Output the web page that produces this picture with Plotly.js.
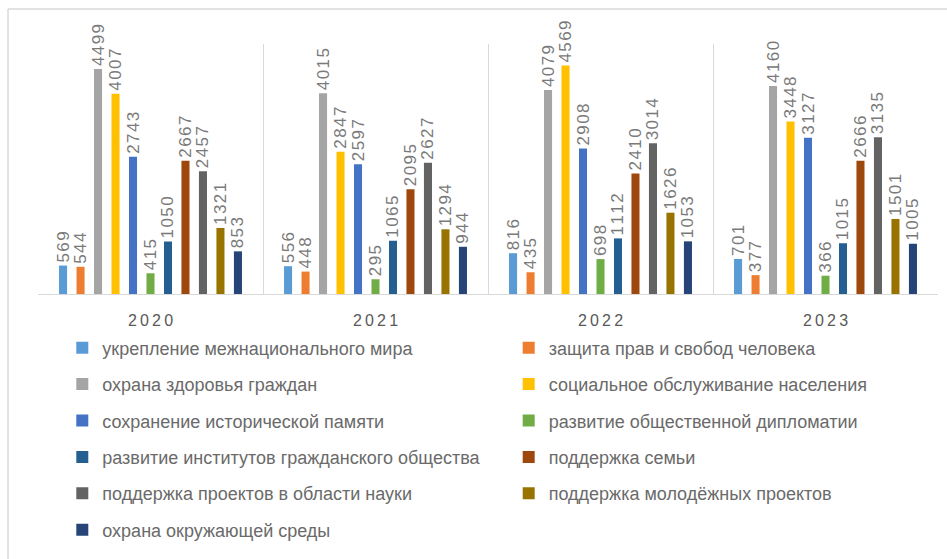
<!DOCTYPE html>
<html>
<head>
<meta charset="utf-8">
<script src="https://cdn.plot.ly/plotly-3.0.1.min.js"></script>
<style>html,body{margin:0;padding:0;background:#fff;}#chart{width:947px;height:559px;}</style>
</head>
<body>
<div id="chart"></div>
<script>
var years = ['2020', '2021', '2022', '2023'];
var seriesNames = [
  'укрепление межнационального мира',
  'защита прав и свобод человека',
  'охрана здоровья граждан',
  'социальное обслуживание населения',
  'сохранение исторической памяти',
  'развитие общественной дипломатии',
  'развитие институтов гражданского общества',
  'поддержка семьи',
  'поддержка проектов в области науки',
  'поддержка молодёжных проектов',
  'охрана окружающей среды'
];
var seriesColors = ['#5B9BD5','#ED7D31','#A5A5A5','#FFC000','#4472C4','#70AD47','#255E91','#9E480E','#636363','#997300','#264478'];
var mezhnatsMir   = [569, 556, 816, 701];
var zashchitaPrav = [544, 448, 435, 377];
var zdorovye      = [4499, 4015, 4079, 4160];
var sotsObsluzh   = [4007, 2847, 4569, 3448];
var istPamyat     = [2743, 2597, 2908, 3127];
var obshchDiplom  = [415, 295, 698, 366];
var institutyGO   = [1050, 1065, 1112, 1015];
var semya         = [2667, 2095, 2410, 2666];
var nauka         = [2457, 2627, 3014, 3135];
var molodezh      = [1321, 1294, 1626, 1501];
var ekologiya     = [853, 944, 1053, 1005];
var seriesValues = [mezhnatsMir, zashchitaPrav, zdorovye, sotsObsluzh, istPamyat, obshchDiplom, institutyGO, semya, nauka, molodezh, ekologiya];

function spaced(s){ return String(s).split('').join('\u200A'); }

var traces = seriesValues.map(function(vals, i){
  return {
    type: 'bar',
    name: seriesNames[i],
    x: years,
    y: vals,
    text: vals.map(spaced),
    textposition: 'outside',
    textangle: -90,
    constraintext: 'none',
    cliponaxis: false,
    textfont: {family: 'Liberation Sans, Arial, sans-serif', size: 17, color: '#7a7a7a'},
    marker: {color: seriesColors[i], line: {width: 0}},
    legend: (i % 2 === 0) ? 'legend' : 'legend2',
    legendgroup: 'g' + i,
    hoverinfo: 'x+y+name'
  };
});

var legendFont = {family: 'Liberation Sans, Arial, sans-serif', size: 18, color: '#6a6a6a'};
var gridCol = '#d9d9d9';
var layout = {
  width: 947, height: 559,
  margin: {l: 38, r: 9, t: 44, b: 265},
  paper_bgcolor: '#ffffff', plot_bgcolor: '#ffffff',
  barmode: 'group',
  bargap: 0.145,
  bargroupgap: 0.54,
  showlegend: true,
  xaxis: {
    type: 'category',
    tickson: 'boundaries',
    showgrid: true, gridcolor: gridCol, gridwidth: 1,
    showline: true, linecolor: gridCol, linewidth: 1,
    ticks: '',
    tickvals: years,
    ticktext: years.map(function(y){ return y.split('').join('\u2009'); }),
    tickfont: {family: 'Liberation Sans, Arial, sans-serif', size: 16, color: '#595959'},
    ticklabelstandoff: 12,
    fixedrange: true
  },
  yaxis: {
    range: [0, 5000],
    showgrid: false, zeroline: false, showticklabels: false, showline: false,
    fixedrange: true
  },
  legend: {
    orientation: 'v', x: 0.027, xanchor: 'left', y: -0.142, yanchor: 'top',
    font: legendFont, tracegroupgap: 10, bgcolor: 'rgba(0,0,0,0)'
  },
  legend2: {
    orientation: 'v', x: 0.523, xanchor: 'left', y: -0.142, yanchor: 'top',
    font: legendFont, tracegroupgap: 10, bgcolor: 'rgba(0,0,0,0)'
  },
  shapes: [
    {type: 'line', xref: 'paper', yref: 'paper', x0: -0.0333, x1: 1.02, y0: 1.14, y1: 1.14, line: {color: gridCol, width: 1.5}},
    {type: 'line', xref: 'paper', yref: 'paper', x0: -0.0333, x1: -0.0333, y0: 1.14, y1: -1.1, line: {color: gridCol, width: 1.5}}
  ]
};

Plotly.newPlot('chart', traces, layout, {displayModeBar: false, staticPlot: false});
</script>
</body>
</html>
